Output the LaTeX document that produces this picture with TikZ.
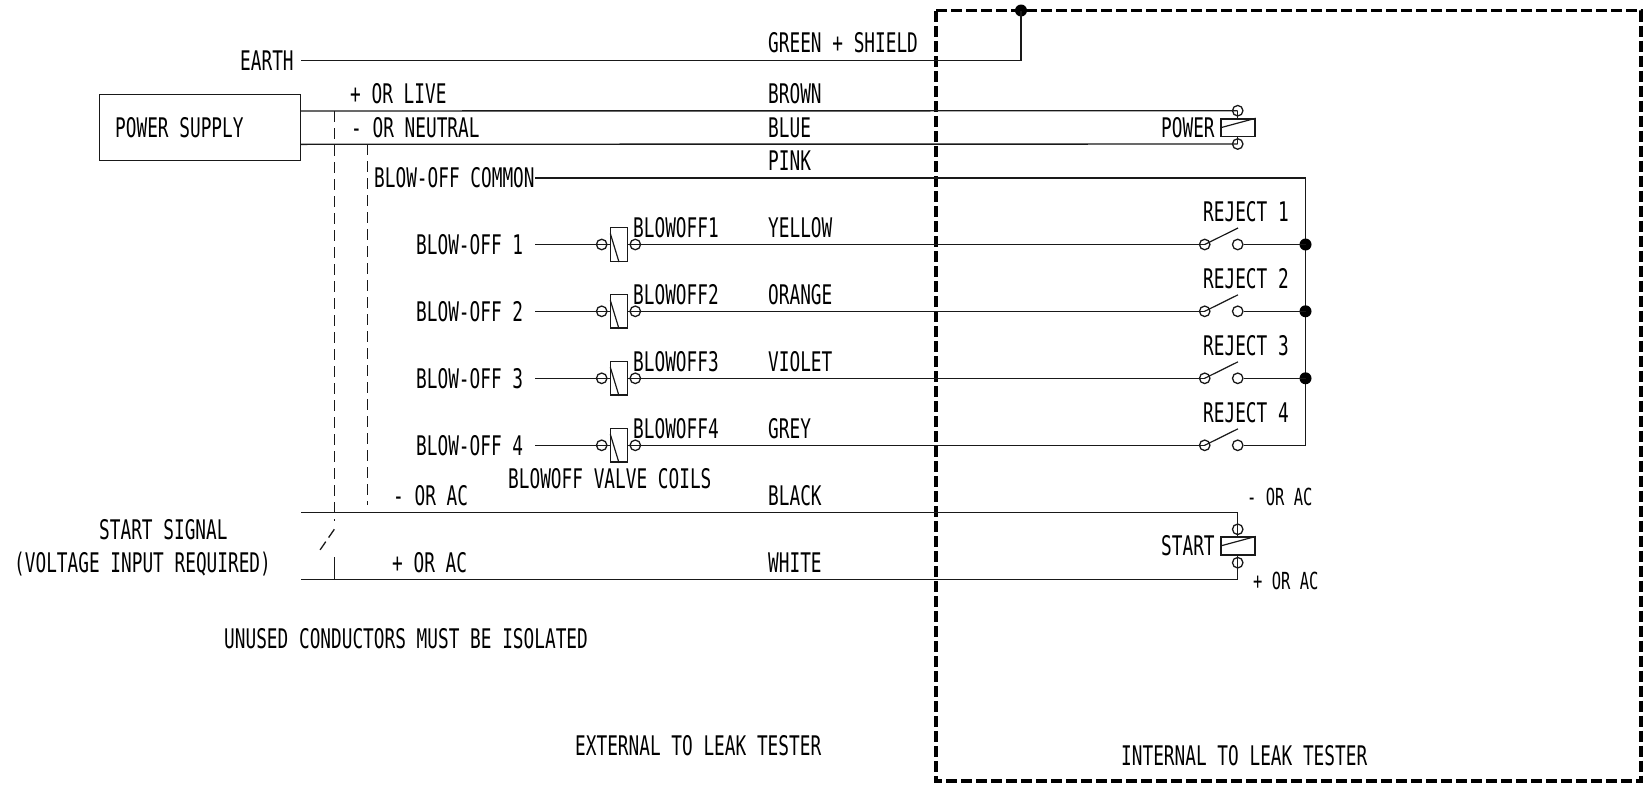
\documentclass[tikz,border=0pt]{standalone}
\usepackage{fontspec}
\setmainfont{DejaVu Sans Mono}[FakeStretch=0.658]
\usetikzlibrary{calc}
\tikzset{
  x=1pt,y=-1pt,
  wire/.style={line width=1.4pt,black!90},
  blade/.style={line width=1.2pt,black!90},
  ctrl/.style={line width=1.3pt,black!90,dash pattern=on 11pt off 6pt},
  frame/.style={line width=3.2pt,black,dash pattern=on 11pt off 4pt},
  term/.style={circle,draw=black!90,line width=1.3pt,minimum size=10.5pt,inner sep=0pt},
  dotn/.style={circle,fill=black,minimum size=12pt,inner sep=0pt},
  lbl/.style={anchor=base west,inner sep=0pt,font=\fontsize{27pt}{28pt}\selectfont,text=black},
  small lbl/.style={lbl,font=\fontsize{23.5pt}{24pt}\selectfont},
  coilbox/.style={draw=black!90,line width=1.4pt,inner sep=0pt},
}
\begin{document}
\begin{tikzpicture}
\useasboundingbox (0,0) rectangle (1643,787);
% frame
\coordinate (fTL) at (936,10.5);
\coordinate (fTR) at (1641,10.5);
\coordinate (fBR) at (1641,781);
\coordinate (fBL) at (936,781);
\draw[frame] (fTL) -- (fTR) -- (fBR) -- (fBL) -- cycle;
% earth
\node[dotn] (edot) at (1021,10.5) {};
\coordinate (eL) at (301,60.7);
\draw[wire] (eL) -- (edot.center |- eL) -- (edot.center);
% power supply
\node[draw=black!90,line width=1.4pt,minimum width=201pt,minimum height=66pt,inner sep=0pt] (ps) at (200,127.3) {};
\coordinate (psA) at (ps.east |- 0,111);
\coordinate (psB) at (ps.east |- 0,144.3);
\node[term] (pwT) at (1237.7,110.7) {};
\node[term] (pwB) at (1237.7,144) {};
\node[coilbox,minimum width=34pt,minimum height=17.7pt] (pwC) at (1238,127.8) {};
\draw[wire] (psA) -- (pwT.center);
\draw[wire] (psB) -- (pwB.center);
\draw[wire] (pwT.center) -- (pwT.center |- pwC.north);
\draw[wire] (pwB.center) -- (pwB.center |- pwC.south);
\draw[blade] (pwC.west) -- (pwC.north east);
% pink common
\coordinate (pkL) at (535,178);
\coordinate (pkR) at (1305.5,178);
\coordinate (pkB) at (1305.5,445.3);
\draw[wire] (pkL) -- (pkR) -- (pkB);
% branches
\foreach \n/\y in {1/244.5,2/311.3,3/378.3,4/445.3}{
  \coordinate (bL\n) at (535,\y);
  \node[term] (bA\n) at (601.7,\y) {};
  \node[coilbox,minimum width=17.4pt,minimum height=33.7pt] (bC\n) at (619,\y) {};
  \node[term] (bB\n) at (635.3,\y) {};
  \node[term] (sA\n) at (1204.7,\y) {};
  \node[term] (sB\n) at (1237.7,\y) {};
  \coordinate (sT\n) at (1238,\y-16.5);
  \draw[wire] (bL\n) -- (bC\n.west);
  \draw[wire] (bC\n.east) -- (sA\n.center);
  \draw[blade] (sA\n.center) -- (sT\n);
  \draw[blade] ($(bC\n.north west)+(0.7,6.5)$) -- (bC\n.south);
}
\foreach \n in {1,2,3}{
  \node[dotn] (d\n) at (pkR |- sB\n) {};
  \draw[wire] (sB\n.east) -- (d\n.center);
}
\draw[wire] (sB4.east) -- (pkB);
% start
\coordinate (stA) at (301,512.4);
\coordinate (stB) at (301,579.4);
\node[term] (stT) at (1237.7,529.3) {};
\node[term] (stU) at (1237.7,562.7) {};
\node[coilbox,minimum width=34pt,minimum height=17.7pt] (stC) at (1238,546) {};
\draw[wire] (stA) -- (stT |- stA) -- (stC.north -| stT);
\draw[wire] (stB) -- (stU |- stB) -- (stC.south -| stU);
\draw[blade] (stC.west) -- (stC.north east);
% control dashed lines
\coordinate (cA) at (334.3,111);
\coordinate (cB) at (334.3,521);
\coordinate (cC) at (334.3,529.3);
\coordinate (cD) at (320,550);
\coordinate (cE) at (334.3,557);
\coordinate (cF) at (334.3,579.4);
\coordinate (cG) at (367.3,144.3);
\coordinate (cH) at (367.3,505);
\draw[ctrl] (cA) -- (cB);
\draw[ctrl,dash pattern=on 10pt off 5pt] (cC) -- (cD);
\draw[ctrl,solid] (cE) -- (cF);
\draw[ctrl] (cG) -- (cH);
% labels
\node[lbl] (t1) at (240,70) {EARTH};
\node[lbl] (t2) at (768,52.5) {GREEN + SHIELD};
\node[lbl] (t3) at (350,103.5) {+ OR LIVE};
\node[lbl] (t4) at (768,103.5) {BROWN};
\node[lbl] (t5) at (115,137) {POWER SUPPLY};
\node[lbl] (t6) at (351,137) {- OR NEUTRAL};
\node[lbl] (t7) at (768,137) {BLUE};
\node[lbl] (t8) at (768,170.5) {PINK};
\node[lbl] (t9) at (374,187.5) {BLOW-OFF COMMON};
\node[lbl] (t10) at (1161,137) {POWER};
\node[lbl] (b1) at (416,254.5) {BLOW-OFF 1};
\node[lbl] (b2) at (416,321.5) {BLOW-OFF 2};
\node[lbl] (b3) at (416,388.5) {BLOW-OFF 3};
\node[lbl] (b4) at (416,455.5) {BLOW-OFF 4};
\node[lbl] (v1) at (633,237) {BLOWOFF1};
\node[lbl] (v2) at (633,304) {BLOWOFF2};
\node[lbl] (v3) at (633,371) {BLOWOFF3};
\node[lbl] (v4) at (633,438) {BLOWOFF4};
\node[lbl] (c1) at (768,237) {YELLOW};
\node[lbl] (c2) at (768,304) {ORANGE};
\node[lbl] (c3) at (768,371) {VIOLET};
\node[lbl] (c4) at (768,438) {GREY};
\node[lbl] (r1) at (1203,221) {REJECT 1};
\node[lbl] (r2) at (1203,288) {REJECT 2};
\node[lbl] (r3) at (1203,355) {REJECT 3};
\node[lbl] (r4) at (1203,422) {REJECT 4};
\node[lbl] (t11) at (508,488) {BLOWOFF VALVE COILS};
\node[lbl] (t12) at (393,505) {- OR AC};
\node[lbl] (t13) at (768,505) {BLACK};
\node[lbl] (t14) at (99,539) {START SIGNAL};
\node[lbl] (t15) at (14,572) {(VOLTAGE INPUT REQUIRED)};
\node[lbl] (t16) at (392,572) {+ OR AC};
\node[lbl] (t17) at (768,572) {WHITE};
\node[small lbl] (t18) at (1247,505) {- OR AC};
\node[lbl] (t19) at (1161,555) {START};
\node[small lbl] (t20) at (1253,589) {+ OR AC};
\node[lbl] (t21) at (224,648) {UNUSED CONDUCTORS MUST BE ISOLATED};
\node[lbl] (t22) at (575,755) {EXTERNAL TO LEAK TESTER};
\node[lbl] (t23) at (1121,765) {INTERNAL TO LEAK TESTER};
\end{tikzpicture}
\end{document}
